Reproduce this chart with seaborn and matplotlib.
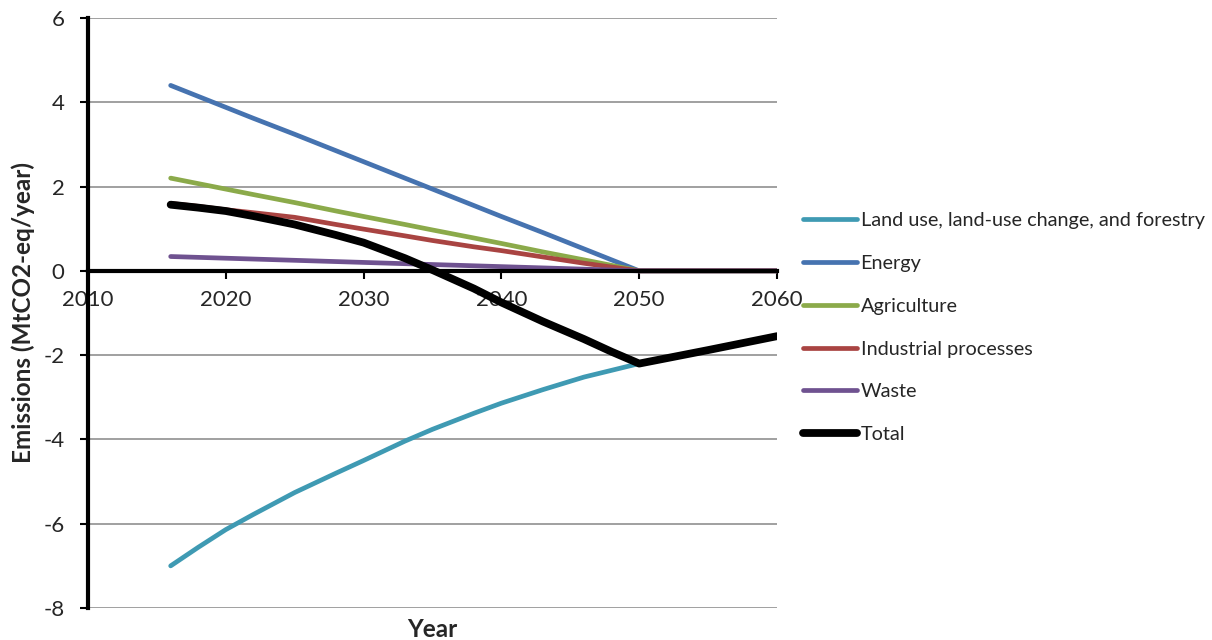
import numpy as np
import pandas as pd
import matplotlib
matplotlib.use("Agg")
import matplotlib.pyplot as plt
import seaborn as sns

# data
years = [2016, 2018, 2020, 2022, 2025, 2028, 2030, 2033, 2035, 2038, 2040, 2043, 2046, 2048, 2050, 2055, 2060]
lulucf = [-7.0, -6.56, -6.14, -5.78, -5.26, -4.8, -4.5, -4.04, -3.76, -3.38, -3.14, -2.82, -2.52, -2.36, -2.2, np.nan, np.nan]
energy = [4.4, 4.14, 3.88, 3.62, 3.24, 2.85, 2.59, 2.2, 1.94, 1.55, 1.29, 0.91, 0.52, 0.26, 0.0, 0.0, 0.0]
agriculture = [2.2, 2.07, 1.94, 1.81, 1.62, 1.42, 1.29, 1.1, 0.97, 0.78, 0.65, 0.45, 0.26, 0.13, 0.0, 0.0, 0.0]
industrial = [1.6, 1.53, 1.45, 1.38, 1.27, 1.1, 0.99, 0.83, 0.72, 0.57, 0.48, 0.33, 0.18, 0.09, 0.0, 0.0, 0.0]
waste = [0.34, 0.32, 0.30, 0.28, 0.25, 0.22, 0.20, 0.17, 0.15, 0.12, 0.10, 0.07, 0.04, 0.02, 0.0, 0.0, 0.0]
total = [1.57, 1.5, 1.42, 1.3, 1.1, 0.85, 0.67, 0.3, 0.02, -0.42, -0.75, -1.2, -1.62, -1.92, -2.2, -1.88, -1.55]

series_names = ["Land use, land-use change, and forestry", "Energy", "Agriculture",
                "Industrial processes", "Waste", "Total"]
series_values = [lulucf, energy, agriculture, industrial, waste, total]
colors = ["#3F9AB3", "#4673B0", "#8BAA4A", "#A94442", "#6F5290", "#000000"]
widths = [3.4, 3.4, 3.4, 3.4, 3.4, 5.6]

df = pd.DataFrame({"Year": years})
for name, vals in zip(series_names, series_values):
    df[name] = vals
long_df = df.melt(id_vars="Year", var_name="Series", value_name="Emissions").dropna()

sns.set_style("white")
plt.rcParams["font.family"] = ["Lato", "DejaVu Sans"]
plt.rcParams["axes.unicode_minus"] = False

fig = plt.figure(figsize=(12.12, 6.4), dpi=100)
ax = fig.add_axes([0.0726, 0.05, 0.5685, 0.9219])

for name, col, lw in zip(series_names, colors, widths):
    sns.lineplot(data=long_df[long_df["Series"] == name], x="Year", y="Emissions",
                 color=col, linewidth=lw, label=name, ax=ax,
                 solid_capstyle="round", solid_joinstyle="round")

ax.set_xlim(2010, 2060)
ax.set_ylim(-8, 6)
ax.set_xticks(range(2010, 2061, 10))
ax.set_yticks(range(-8, 7, 2))
ax.yaxis.grid(True, color="#868686", linewidth=1.1)
ax.set_axisbelow(True)

ax.spines["top"].set_visible(False)
ax.spines["right"].set_visible(False)
ax.spines["bottom"].set_position(("data", 0))
for s in ["left", "bottom"]:
    ax.spines[s].set_linewidth(3)
    ax.spines[s].set_color("black")
    ax.spines[s].set_zorder(5)

ax.tick_params(axis="both", direction="out", length=6, width=1.5, color="black",
               labelsize=16, left=True, bottom=True)
ax.tick_params(axis="x", pad=8)
ax.tick_params(axis="y", pad=11)

ax.set_xlabel("Year", fontsize=17.5, fontweight="bold", labelpad=0)
ax.xaxis.set_label_coords(0.5, -0.017)
ax.set_ylabel("Emissions (MtCO2-eq/year)", fontsize=17.5, fontweight="bold", labelpad=6)

ax.legend(loc="center left", bbox_to_anchor=(0.6625, 0.488), bbox_transform=fig.transFigure,
          frameon=False, fontsize=14.3, handlelength=2.7, handletextpad=0.2,
          labelspacing=1.3, borderpad=0, borderaxespad=0)

fig.savefig("out.png", dpi=100)
